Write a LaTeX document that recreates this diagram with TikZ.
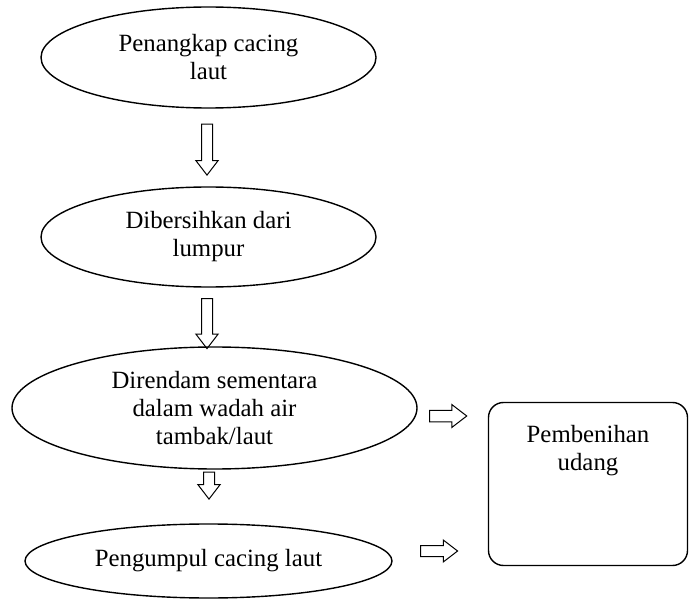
\documentclass[tikz,border=0pt]{standalone}
\usepackage{fontspec}
\setmainfont{Liberation Serif}
\usetikzlibrary{shapes.geometric}
\usetikzlibrary{shapes.arrows}

\begin{document}
\begin{tikzpicture}[x=1pt, y=-1pt, line width=1.4pt,
    every node/.style={font=\fontsize{24.8}{28}\selectfont},
    blob/.style={ellipse, draw, align=center, inner sep=0pt},
    blockarrow/.style={single arrow, draw, line width=1pt, inner sep=5pt,
        minimum width=21pt, single arrow head extend=5.5pt,
        single arrow tip angle=75, text width=0pt}]

    \useasboundingbox (0,0) rectangle (689,599);

    % Steps
    \node[blob, minimum width=335pt, minimum height=101pt] (tangkap) at (208.5,57.5)
        {Penangkap cacing\\laut};
    \node[blob, minimum width=335pt, minimum height=100pt] (bersih) at (208.5,237)
        {Dibersihkan dari\\lumpur};
    \node[blob, minimum width=405pt, minimum height=122pt] (rendam) at (214.5,408)
        {Direndam sementara\\dalam wadah air\\tambak/laut};
    \node[blob, minimum width=367pt, minimum height=74pt] (kumpul) at (208.5,561)
        {Pengumpul cacing laut};

    % Hatchery
    \node[draw, rounded corners=15pt, minimum width=199pt, minimum height=163pt,
        label={[anchor=north, align=center, yshift=-19pt]north:Pembenihan\\udang}]
        (benih) at (588,484) {};

    % Hollow arrows
    \node[blockarrow, rotate=-90, minimum height=51pt] (a1) at (207,146) {};
    \node[blockarrow, rotate=-90, minimum height=50pt] (a2) at (207,320) {};
    \node[blockarrow, rotate=-90, minimum height=27pt, minimum width=19pt] (a3) at (209,482) {};
    \node[blockarrow, minimum height=37pt, minimum width=23pt] (a4) at (444.5,416) {};
    \node[blockarrow, minimum height=37pt, minimum width=19pt] (a5) at (435.5,551) {};

\end{tikzpicture}
\end{document}
